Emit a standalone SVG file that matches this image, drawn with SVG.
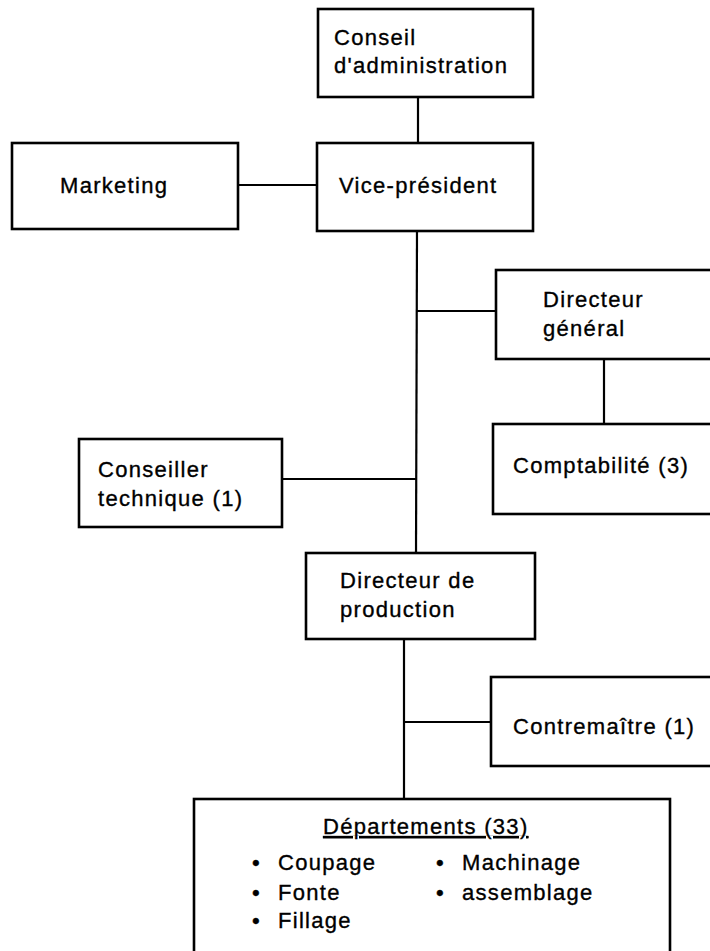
<svg xmlns="http://www.w3.org/2000/svg" width="710" height="951" viewBox="0 0 710 951">
<style>
  .box { fill: #ffffff; stroke: #000000; stroke-width: 2.6; }
  .conn line { stroke: #000000; stroke-width: 2.2; fill: none; }
  text { font-family: "Liberation Sans", Arial, Helvetica, sans-serif; font-size: 22px; letter-spacing: 1.3px; fill: #000000; stroke: #000000; stroke-width: 0.35; }
</style>
<rect x="0" y="0" width="710" height="951" fill="#ffffff"/>
<g id="connectors" class="conn">
  <line x1="418" y1="97" x2="418" y2="143"/>
  <line x1="238" y1="185" x2="317" y2="185"/>
  <line x1="417" y1="231" x2="416" y2="553"/>
  <line x1="417" y1="311" x2="496" y2="311"/>
  <line x1="604" y1="359" x2="604" y2="424"/>
  <line x1="282" y1="479" x2="416" y2="479"/>
  <line x1="404" y1="639" x2="404" y2="799"/>
  <line x1="404" y1="722" x2="491" y2="722"/>
</g>
<g id="conseil">
  <rect class="box" x="318" y="9" width="215" height="88"/>
  <text x="334" y="45">Conseil</text>
  <text x="334" y="73">d'administration</text>
</g>
<g id="marketing">
  <rect class="box" x="12" y="143" width="226" height="86"/>
  <text x="60" y="193">Marketing</text>
</g>
<g id="vice-president">
  <rect class="box" x="317" y="143" width="216" height="88"/>
  <text x="339" y="193">Vice-président</text>
</g>
<g id="directeur-general">
  <rect class="box" x="496" y="270" width="230" height="89"/>
  <text x="543" y="307">Directeur</text>
  <text x="543" y="336">général</text>
</g>
<g id="comptabilite">
  <rect class="box" x="493" y="424" width="233" height="90"/>
  <text x="513" y="473">Comptabilité (3)</text>
</g>
<g id="conseiller-technique">
  <rect class="box" x="79" y="439" width="203" height="88"/>
  <text x="98" y="477">Conseiller</text>
  <text x="98" y="506">technique (1)</text>
</g>
<g id="directeur-production">
  <rect class="box" x="306" y="553" width="229" height="86"/>
  <text x="340" y="588">Directeur de</text>
  <text x="340" y="617">production</text>
</g>
<g id="contremaitre">
  <rect class="box" x="491" y="677" width="235" height="89"/>
  <text x="513" y="734">Contremaître (1)</text>
</g>
<g id="departements">
  <rect class="box" x="194" y="799" width="476" height="165"/>
  <text x="323" y="834" text-decoration="underline">Départements (33)</text>
  <text y="870"><tspan x="252">•</tspan><tspan x="278">Coupage</tspan></text>
  <text y="900"><tspan x="252">•</tspan><tspan x="278">Fonte</tspan></text>
  <text y="928"><tspan x="252">•</tspan><tspan x="278">Fillage</tspan></text>
  <text y="870"><tspan x="436">•</tspan><tspan x="462">Machinage</tspan></text>
  <text y="900"><tspan x="436">•</tspan><tspan x="462">assemblage</tspan></text>
</g>
</svg>
